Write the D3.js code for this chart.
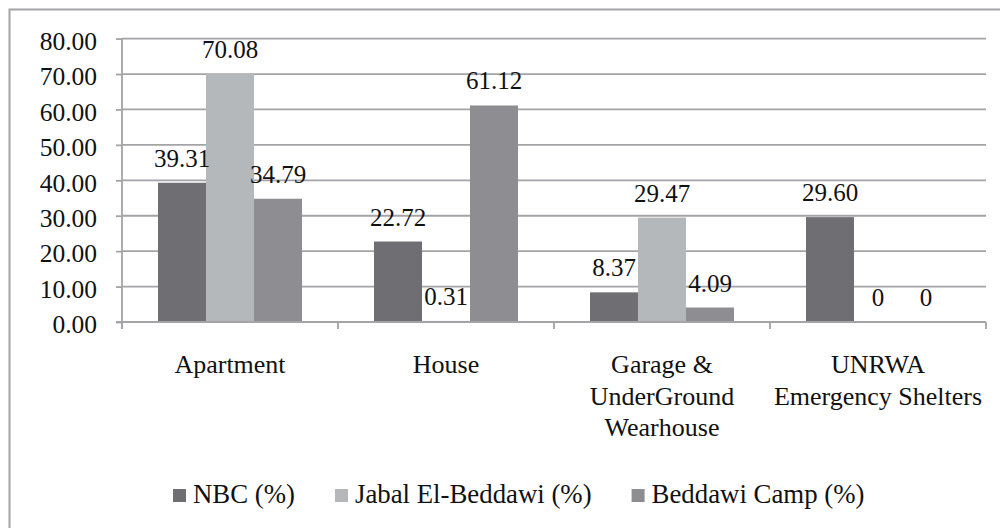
<!DOCTYPE html>
<html>
<head>
<meta charset="utf-8">
<script src="https://cdn.jsdelivr.net/npm/d3@7"></script>
<style>
  html, body { margin: 0; padding: 0; background: #ffffff; }
  svg { display: block; }
  svg text { font-family: "Liberation Serif", Tinos, "Times New Roman", Times, "DejaVu Serif", serif; fill: #111; }
</style>
</head>
<body>
<svg id="chart" width="1000" height="528"></svg>
<script>
// Housing type by area (%)
const categories = [
  ["Apartment"],
  ["House"],
  ["Garage &", "UnderGround", "Wearhouse"],
  ["UNRWA", "Emergency Shelters"]
];
const seriesNames = ["NBC (%)", "Jabal El-Beddawi (%)", "Beddawi Camp (%)"];
const nbc     = [39.31, 22.72, 8.37, 29.60];
const jabal   = [70.08, 0.31, 29.47, 0];
const beddawi = [34.79, 61.12, 4.09, 0];
const yTicks  = [0, 10, 20, 30, 40, 50, 60, 70, 80];

const seriesValues = [nbc, jabal, beddawi];
const colors = ["#6f6f73", "#b5b8ba", "#8e8e92"];
const gridColor = "#a4a4a8";
const serif = "'Liberation Serif', Tinos, 'Times New Roman', Times, 'DejaVu Serif', serif";

const svg = d3.select("#chart");

// outer frame (runs past the right and bottom edges)
svg.append("rect")
  .attr("x", 9.5).attr("y", 9.5)
  .attr("width", 1010).attr("height", 540)
  .attr("fill", "none")
  .attr("stroke", gridColor)
  .attr("stroke-width", 2);

const plot = { left: 122, right: 986, top: 38.6, bottom: 322 };

const x0 = d3.scaleBand()
  .domain(d3.range(categories.length))
  .range([plot.left, plot.right])
  .padding(0);

const bw = x0.bandwidth();
const x1 = d3.scaleBand()
  .domain(d3.range(seriesNames.length))
  .range([bw / 6, bw * 5 / 6])
  .padding(0);

const y = d3.scaleLinear()
  .domain([0, 80])
  .range([plot.bottom, plot.top]);

// horizontal gridlines
svg.append("g")
  .selectAll("line")
  .data(yTicks.filter(t => t > 0))
  .join("line")
  .attr("x1", plot.left).attr("x2", plot.right)
  .attr("y1", d => y(d)).attr("y2", d => y(d))
  .attr("stroke", gridColor)
  .attr("stroke-width", 1.8);

// y axis
const yAxis = svg.append("g")
  .attr("transform", `translate(${plot.left},0)`)
  .call(d3.axisLeft(y).tickValues(yTicks).tickFormat(d3.format(".2f")).tickSize(6).tickPadding(19));
yAxis.attr("font-family", null).attr("font-size", null);
yAxis.select(".domain")
  .attr("d", `M0,${plot.top}V${plot.bottom + 7}`)
  .attr("stroke", gridColor).attr("stroke-width", 1.8);
yAxis.selectAll(".tick line").attr("stroke", gridColor).attr("stroke-width", 1.8);
yAxis.selectAll(".tick text")
  .attr("dy", "0.42em")
  .style("font-size", "25.5px")
  .style("font-family", serif)
  .attr("fill", "#111");

// bars
const groups = svg.append("g")
  .selectAll("g")
  .data(categories.map((c, i) => i))
  .join("g")
  .attr("transform", i => `translate(${x0(i)},0)`);

groups.selectAll("rect")
  .data(i => seriesValues.map((vals, s) => ({ s, v: vals[i] })))
  .join("rect")
  .attr("x", d => x1(d.s))
  .attr("width", x1.bandwidth())
  .attr("y", d => y(d.v))
  .attr("height", d => y(0) - y(d.v))
  .attr("fill", d => colors[d.s]);

// value labels
const fmt = v => v === 0 ? "0" : d3.format(".2f")(v);
groups.selectAll("text")
  .data(i => seriesValues.map((vals, s) => ({ s, v: vals[i] })))
  .join("text")
  .attr("x", d => x1(d.s) + x1.bandwidth() / 2)
  .attr("y", d => y(d.v) - 16)
  .attr("text-anchor", "middle")
  .style("font-family", serif)
  .style("font-size", "25px")
  .text(d => fmt(d.v));

// x axis baseline and ticks
const xAxis = svg.append("g");
xAxis.append("line")
  .attr("x1", plot.left - 6).attr("x2", plot.right)
  .attr("y1", plot.bottom).attr("y2", plot.bottom)
  .attr("stroke", gridColor).attr("stroke-width", 1.8);
xAxis.selectAll("line.tick")
  .data(d3.range(categories.length + 1))
  .join("line")
  .attr("class", "tick")
  .attr("x1", i => plot.left + i * bw).attr("x2", i => plot.left + i * bw)
  .attr("y1", plot.bottom).attr("y2", plot.bottom + 7)
  .attr("stroke", gridColor).attr("stroke-width", 1.8);

// category labels
svg.append("g")
  .selectAll("text")
  .data(categories.map((lines, i) => ({ lines, i })))
  .join("text")
  .attr("text-anchor", "middle")
  .style("font-family", serif)
  .style("font-size", "26px")
  .each(function(d) {
    const t = d3.select(this);
    d.lines.forEach((line, k) => {
      t.append("tspan")
        .attr("x", x0(d.i) + bw / 2)
        .attr("y", plot.bottom + 51 + k * 31.5)
        .text(line);
    });
  });

// legend
const legend = svg.append("g");
let lx = 173;
seriesNames.forEach((name, s) => {
  legend.append("rect")
    .attr("x", lx).attr("y", 489)
    .attr("width", 13).attr("height", 13)
    .attr("fill", colors[s]);
  const t = legend.append("text")
    .attr("x", lx + 20).attr("y", 503)
    .style("font-family", serif)
    .style("font-size", "26.8px")
    .text(name);
  lx = lx + 20 + t.node().getComputedTextLength() + 40;
});
</script>
</body>
</html>
